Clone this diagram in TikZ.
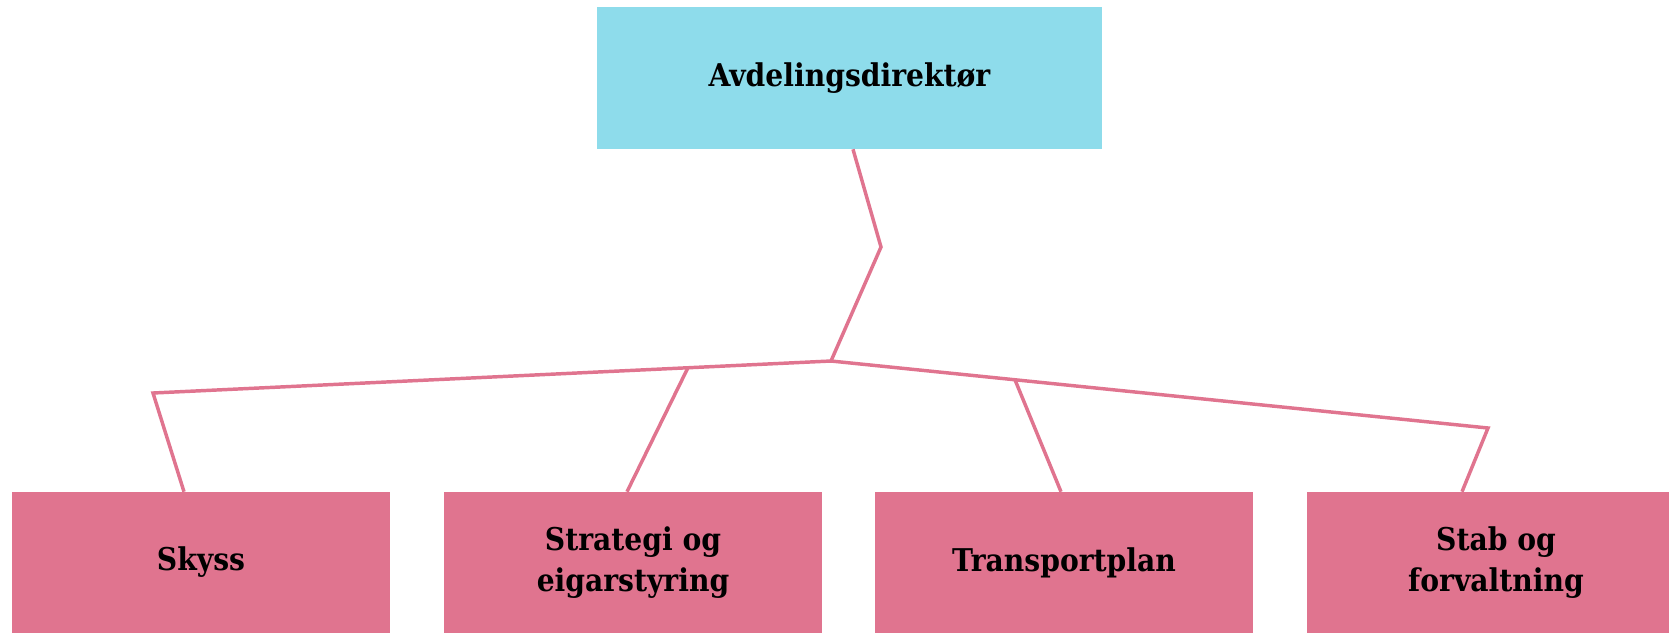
\documentclass[tikz,border=0pt]{standalone}
\usepackage{fontspec}
\setmainfont{DejaVu Serif Condensed}
\usetikzlibrary{calc}
\definecolor{topblue}{RGB}{142,220,235}
\definecolor{unitpink}{RGB}{224,116,143}

\begin{document}
\begin{tikzpicture}[x=0.75pt,y=-0.75pt,
  boss/.style={fill=topblue, minimum width=378.75pt, minimum height=106.5pt,
    inner sep=0pt, font=\fontsize{23.5}{30.5}\selectfont\bfseries},
  unit/.style={fill=unitpink, minimum width=283.5pt, minimum height=105.75pt,
    inner sep=0pt, align=center, font=\fontsize{23.5}{30.5}\selectfont\bfseries},
  link/.style={draw=unitpink, line width=2.6pt}]
\useasboundingbox (0,0) rectangle (1669,633);

\node[boss] (dir) at (849.5,78) {Avdelingsdirektør};
\foreach \x/\name/\txt in {201/skyss/Skyss, 633/strat/{Strategi og\\eigarstyring},
    1064/transp/Transportplan, 1496/stab/{Stab og\\forvaltning}}
   \node[unit] (\name) at (\x,562.5) {\txt};

\coordinate (kink) at (881,247);
\coordinate (hub) at (831,361);
\coordinate (lcorner) at (153,393);
\coordinate (rcorner) at (1488,428);
\coordinate (lbranch) at ($(hub)!0.211!(lcorner)$);
\coordinate (rbranch) at ($(hub)!0.280!(rcorner)$);

\draw[link] ($(dir.south)+(3.5,0)$) -- (kink) -- (hub);
\draw[link] (hub) -- (lcorner) -- ($(skyss.north)+(-17,0)$);
\draw[link] (lbranch) -- ($(strat.north)+(-6,0)$);
\draw[link] (hub) -- (rcorner) -- ($(stab.north)+(-34,0)$);
\draw[link] (rbranch) -- ($(transp.north)+(-3,0)$);
\end{tikzpicture}
\end{document}
